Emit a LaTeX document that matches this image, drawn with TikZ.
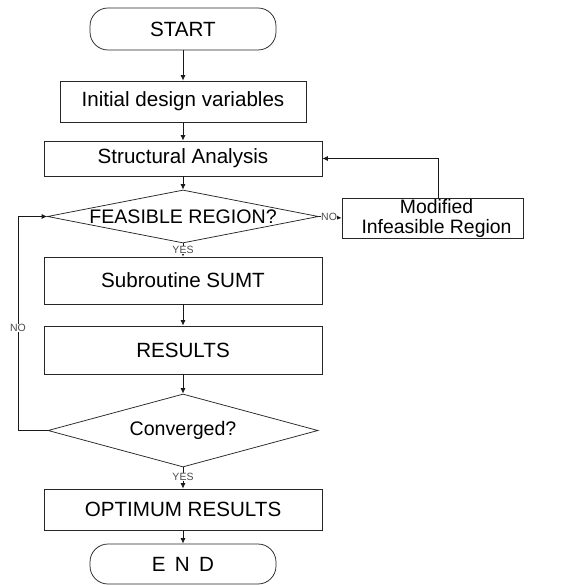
\documentclass[tikz,border=0pt]{standalone}
\usepackage{fontspec}
\setmainfont{Liberation Sans}
\usetikzlibrary{shapes.geometric,arrows.meta}

\tikzset{
  box/.style={draw=black!85, line width=0.75pt, rectangle, inner sep=0pt, font=\fontsize{20.6}{24}\selectfont},
  term/.style={box, rounded corners=18pt},
  decide/.style={draw=black!85, line width=0.75pt, diamond, aspect=5, inner sep=0pt, font=\fontsize{19.6}{23}\selectfont},
  flow/.style={draw=black!90, line width=0.75pt, -{Latex[length=5.5pt,width=5pt]}},
  tag/.style={fill=white, inner sep=0.5pt, text=black!70, font=\fontsize{10.5}{11}\selectfont}
}

\begin{document}
\begin{tikzpicture}[x=1pt,y=-1pt]
    \useasboundingbox (0,0) rectangle (581,585);

    \node[term, minimum width=186pt, minimum height=42pt] (start) at (183,29) {START};
    \node[box, minimum width=246pt, minimum height=41pt] (init) at (183,101.5) {Initial design variables};
    \node[box, minimum width=278pt, minimum height=35pt] (anal) at (183,158.5) {Structural Analysis};
    \node[decide, minimum width=271pt, minimum height=53pt] (feas) at (183,216.5) {FEASIBLE REGION?};
    \node[box, minimum width=181pt, minimum height=40pt, align=center,
      font=\fontsize{19.4}{22}\selectfont] (modif) at (432.5,218)
      {\hspace{8pt}Modified\\[-2pt]\hspace{8pt}Infeasible Region};
    \node[box, minimum width=278pt, minimum height=47pt] (sumt) at (183,280.5) {Subroutine SUMT};
    \node[box, minimum width=278pt, minimum height=48pt] (res) at (183,350) {RESULTS};
    \node[decide, minimum width=270pt, minimum height=73pt] (conv) at (183,430.5) {Converged?};
    \node[box, minimum width=278pt, minimum height=41pt] (opt) at (183,509.5) {OPTIMUM RESULTS};
    \node[term, minimum width=186pt, minimum height=40pt] (end) at (183,564) {E\hspace{0.45em}N\hspace{0.45em}D};

    \draw[flow] (start) -- (init);
    \draw[flow] (init) -- (anal);
    \draw[flow] (anal) -- (feas);
    \draw[flow] (feas) -- node[tag, pos=0.5] (fyes) {YES} (sumt);
    \draw[flow] (feas.east) -- node[tag, pos=0.45] (fno) {NO} (modif.west);
    \coordinate (modtop) at ([xshift=5.5pt]modif.north);
    \draw[flow] (modtop) |- (anal.east);
    \draw[flow] (sumt) -- (res);
    \draw[flow] (res) -- (conv);
    \draw[flow] (conv) -- node[tag, pos=0.45] (cyes) {YES} (opt);
    \draw[flow] (opt) -- (end);

    \coordinate (lowleft) at (18,430.5);
    \coordinate (upleft) at (18,216.5);
    \draw[flow] (conv.west) -- (lowleft) -- node[tag, pos=0.48] (cno) {NO} (upleft) -- (feas.west);

  \end{tikzpicture}
\end{document}
